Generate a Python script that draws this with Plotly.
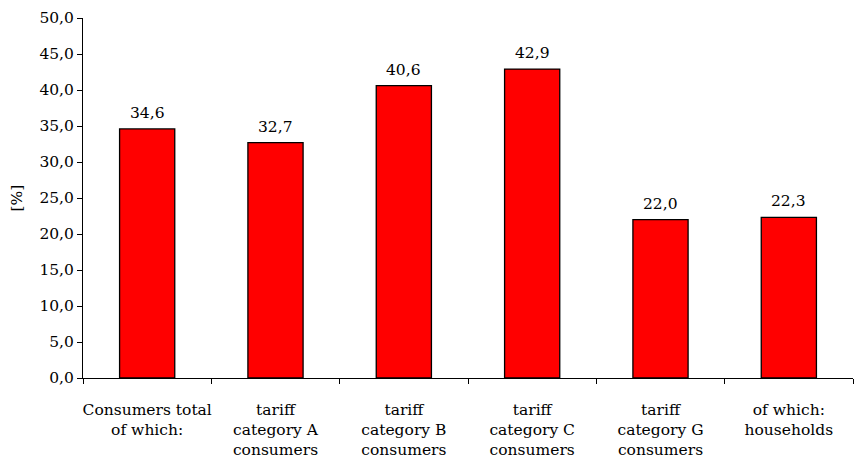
import plotly.graph_objects as go

categories = [
    "Consumers total<br>of which:",
    "tariff<br>category A<br>consumers",
    "tariff<br>category B<br>consumers",
    "tariff<br>category C<br>consumers",
    "tariff<br>category G<br>consumers",
    "of which:<br>households",
]
values = [34.6, 32.7, 40.6, 42.9, 22.0, 22.3]
y_ticks = [0, 5, 10, 15, 20, 25, 30, 35, 40, 45, 50]

FONT = "DejaVu Serif"
SIZE = 15.5

fig = go.Figure(
    go.Bar(
        x=categories,
        y=values,
        marker=dict(color="#ff0000", line=dict(color="#000000", width=1.3)),
        hoverinfo="x+y",
    )
)

# value labels above each bar
for cat, v in zip(categories, values):
    fig.add_annotation(
        x=cat,
        y=v,
        text=f"{v:.1f}".replace(".", ","),
        showarrow=False,
        yanchor="bottom",
        yshift=5,
        font=dict(family=FONT, size=SIZE, color="#000000"),
    )

fig.update_layout(
    width=854,
    height=458,
    margin=dict(l=83, r=1, t=18, b=80),
    paper_bgcolor="white",
    plot_bgcolor="white",
    separators=", ",
    bargap=0.57,
    showlegend=False,
    font=dict(family=FONT, size=SIZE, color="#000000"),
)

fig.update_xaxes(
    type="category",
    showline=True,
    linecolor="#000000",
    linewidth=1,
    ticks="outside",
    tickson="boundaries",
    ticklen=5,
    tickcolor="#000000",
    tickangle=0,
    ticklabelstandoff=17,
    automargin=False,
    showgrid=False,
    tickfont=dict(family=FONT, size=SIZE),
)

fig.update_yaxes(
    range=[0, 50],
    tickvals=y_ticks,
    tickformat=".1f",
    showline=True,
    linecolor="#000000",
    linewidth=1,
    ticks="outside",
    ticklen=5,
    tickcolor="#000000",
    automargin=False,
    showgrid=False,
    zeroline=False,
    tickfont=dict(family=FONT, size=SIZE),
    title=dict(text="[%]", font=dict(family=FONT, size=SIZE), standoff=12),
)

fig.write_html("out.html")
